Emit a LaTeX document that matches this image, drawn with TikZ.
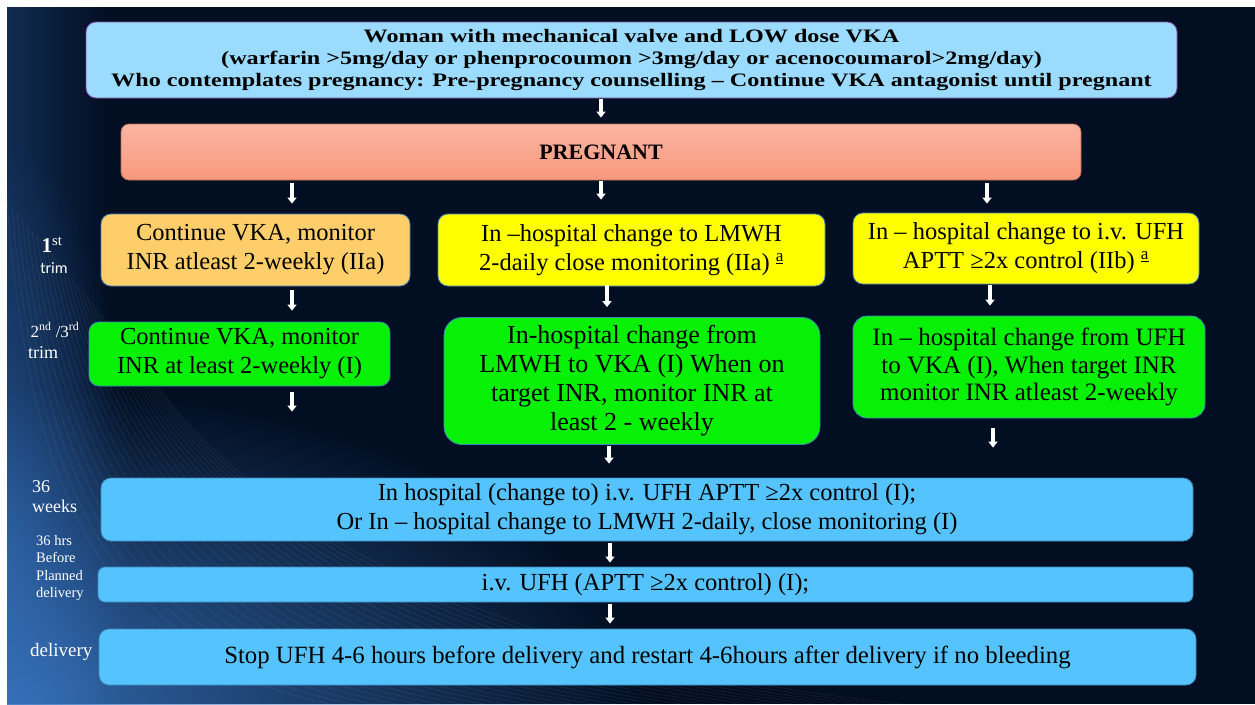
\documentclass[tikz,border=0pt]{standalone}
\usepackage{fontspec}
\setmainfont{Liberation Serif}
\newfontfamily\topfont[FakeStretch=1.27]{Liberation Serif}
\newfontfamily\calfont{Carlito}
\usetikzlibrary{arrows.meta,fadings,calc}
\definecolor{bg}{HTML}{020E21}
\definecolor{streak}{HTML}{2F66AE}
\definecolor{glowc}{HTML}{3A78C4}
\definecolor{topblue}{HTML}{9BDCFE}
\definecolor{toppurple}{HTML}{8050A8}
\definecolor{pregtop}{HTML}{FBB5A3}
\definecolor{pregbot}{HTML}{F8987C}
\definecolor{pregline}{HTML}{B86A52}
\definecolor{orangefill}{HTML}{FDCE69}
\definecolor{yellowfill}{HTML}{FFFF00}
\definecolor{greenfill}{HTML}{06F106}
\definecolor{bluefill}{HTML}{55C4FE}
\definecolor{boxline}{HTML}{3F86B8}
\tikzfading[name=fadeR, left color=transparent!0, right color=transparent!100]
\tikzfading[name=glowfade, inner color=transparent!0, outer color=transparent!100]
\newcommand\bodyfs{\fontsize{24.5}{29}\selectfont}
\newcommand\ordA{\textsuperscript{\underline{a}}}
\tikzset{
  box/.style={rounded corners=10pt, draw=boxline, line width=0.8pt, inner sep=0pt, align=center, text=black, font=\bodyfs},
  lbl/.style={text=white, inner sep=0pt, align=left},
  warrow/.style={draw=white, line width=3.4pt, -{Triangle[width=9pt,length=6pt]}},
}
\begin{document}
\begin{tikzpicture}[x=1pt,y=-1pt]
\useasboundingbox (0,0) rectangle (1255,704);
\fill[white] (0,0) rectangle (1255,704);
\begin{scope}
\clip (7,7) rectangle (1255,704);
\fill[bg] (7,7) rectangle (1255,704);
\fill[streak, path fading=fadeR, opacity=0.35] (7,7) rectangle (110,704);
\fill[streak, path fading=glowfade, opacity=0.6] (7,560) ellipse [x radius=130, y radius=420];
\fill[glowc, path fading=glowfade, opacity=0.85] (7,704) ellipse [x radius=640, y radius=320];
\foreach \i in {0,...,26}
  \draw[white, opacity=0.07, line width=0.7pt] ({7+5*\i},{200+6*\i}) .. controls ({30+8*\i},520) and ({120+14*\i},660) .. ({330+22*\i},704);
\end{scope}

% boxes
\node[box, fill=topblue, draw=toppurple, minimum width=1091pt, minimum height=76pt, font=\topfont\bfseries\fontsize{19}{22}\selectfont] (top) at (631.5,60)
  {Woman with mechanical valve and LOW dose VKA\\(warfarin >5mg/day or phenprocoumon >3mg/day or acenocoumarol>2mg/day)\\Who contemplates pregnancy: Pre-pregnancy counselling – Continue VKA antagonist until pregnant};
\node[box, top color=pregtop, bottom color=pregbot, draw=pregline, rounded corners=8pt, minimum width=960pt, minimum height=56pt, font=\bfseries\fontsize{22}{26}\selectfont] (preg) at (601,152) {PREGNANT};

\node[box, fill=orangefill, minimum width=309pt, minimum height=72pt] (orange) at (255.5,250)
  {Continue VKA, monitor\\INR atleast 2-weekly (IIa)};
\node[box, fill=yellowfill, minimum width=387pt, minimum height=72pt] (ymid) at (631.5,250)
  {In –hospital change to LMWH\\2-daily close monitoring (IIa) \ordA};
\node[box, fill=yellowfill, minimum width=346pt, minimum height=71pt] (yright) at (1026,248.5)
  {In – hospital change to i.v. UFH\\APTT ≥2x control (IIb) \ordA};

\node[box, fill=greenfill, minimum width=301pt, minimum height=64pt] (lgreen) at (239.5,354)
  {Continue VKA, monitor\\INR at least 2-weekly (I)};
\node[box, fill=greenfill, rounded corners=18pt, minimum width=376pt, minimum height=127pt, font=\fontsize{26}{29}\selectfont] (mgreen) at (632,381)
  {In-hospital change from\\LMWH to VKA (I) When on\\target INR, monitor INR at\\least 2 - weekly};
\node[box, fill=greenfill, rounded corners=14pt, minimum width=352pt, minimum height=102pt, font=\fontsize{25}{27.5}\selectfont] (rgreen) at (1029,367)
  {In – hospital change from UFH\\to VKA (I), When target INR\\monitor INR atleast 2-weekly};

\node[box, fill=bluefill, minimum width=1092pt, minimum height=63pt] (w36) at (647,509.5)
  {In hospital (change to) i.v. UFH APTT ≥2x control (I);\\Or In – hospital change to LMWH 2-daily, close monitoring (I)};
\node[box, fill=bluefill, rounded corners=7pt, minimum width=1095pt, minimum height=35pt] (h36) at (645.5,584.5)
  {i.v. UFH (APTT ≥2x control) (I);};
\node[box, fill=bluefill, minimum width=1097pt, minimum height=56pt, font=\fontsize{24.8}{29}\selectfont] (del) at (647.5,657)
  {Stop UFH 4-6 hours before delivery and restart 4-6hours after delivery if no bleeding};

% side labels
\node[lbl, font=\fontsize{21}{23}\selectfont] (l1) at (52,245) {\textbf{1}\textsuperscript{st}};
\node[lbl, font=\calfont\fontsize{16}{18}\selectfont] (l1t) at (54,268) {trim};
\node[lbl, font=\fontsize{17}{19}\selectfont] (l2) at (55,330) {2\textsuperscript{nd} /3\textsuperscript{rd}};
\node[lbl, font=\fontsize{18}{20}\selectfont, anchor=west] (l2t) at (28,353) {trim};
\node[lbl, font=\fontsize{18}{20}\selectfont, anchor=west] (l3a) at (32,487) {36};
\node[lbl, font=\fontsize{18}{20}\selectfont, anchor=west] (l3b) at (32,506) {weeks};
\node[lbl, font=\fontsize{14.5}{17.5}\selectfont, anchor=north west] (l4) at (36,535) {36 hrs\\Before\\Planned\\delivery};
\node[lbl, font=\fontsize{19}{21}\selectfont, anchor=west] (l5) at (30,652) {delivery};

% arrows
\draw[warrow] ($(top.south)+(-30.5,1)$) -- ($(preg.north)+(0,-6)$);
\draw[warrow] ($(preg.south)+(-309,3)$) -- ($(orange.north)+(36.5,-10)$);
\draw[warrow] ($(preg.south)+(0,1)$) -- ($(ymid.north)+(-30.5,-14)$);
\draw[warrow] ($(preg.south)+(386,3)$) -- ($(yright.north)+(-39,-9)$);
\draw[warrow] ($(orange.south)+(36.5,4)$) -- ($(lgreen.north)+(52.5,-11)$);
\draw[warrow] ($(ymid.south)+(-24.5,-1)$) -- ($(mgreen.north)+(-25,-10)$);
\draw[warrow] ($(yright.south)+(-36,1)$) -- ($(rgreen.north)+(-39,-10)$);
\draw[warrow] ($(lgreen.south)+(52.5,6)$) -- ($(w36.north)+(-355,-66)$);
\draw[warrow] ($(mgreen.south)+(-23,1)$) -- ($(w36.north)+(-38,-14)$);
\draw[warrow] ($(rgreen.south)+(-36,10)$) -- ($(w36.north)+(346,-30)$);
\draw[warrow] ($(w36.south)+(-37,2)$) -- ($(h36.north)+(-35.5,-4)$);
\draw[warrow] ($(h36.south)+(-35.5,2)$) -- ($(del.north)+(-37.5,-5)$);
\end{tikzpicture}
\end{document}
